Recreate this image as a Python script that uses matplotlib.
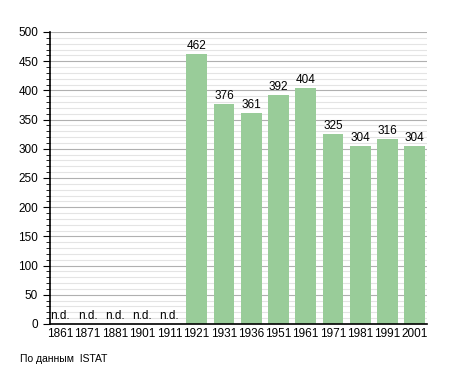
import numpy as np
import matplotlib.pyplot as plt
from matplotlib.ticker import MultipleLocator

plt.rcParams['font.family'] = ['Liberation Sans', 'DejaVu Sans']

years = ["1861", "1871", "1881", "1901", "1911", "1921", "1931", "1936",
         "1951", "1961", "1971", "1981", "1991", "2001"]
pop = [None, None, None, None, None, 462, 376, 361, 392, 404, 325, 304, 316, 304]

fig = plt.figure(figsize=(4.55, 3.73), dpi=100)
ax = fig.add_axes([50/455, 49/373, 377/455, 292/373])

x = np.arange(len(years))
vals = [v if v is not None else 0 for v in pop]
ax.bar(x, vals, width=0.76, color="#99cc99", zorder=2)

for xi, v in zip(x, pop):
    if v is None:
        ax.text(xi, 4, "n.d.", ha="center", va="bottom", fontsize=8.5, zorder=3)
    else:
        ax.text(xi, v + 4, str(v), ha="center", va="bottom", fontsize=8.5, zorder=3)

ax.set_xlim(-0.38, len(years) - 0.55)
ax.set_ylim(0, 500)
ax.set_xticks(x)
ax.set_xticklabels(years, fontsize=8.5)
ax.yaxis.set_major_locator(MultipleLocator(50))
ax.yaxis.set_minor_locator(MultipleLocator(10))
ax.tick_params(axis="y", which="major", length=5, labelsize=8.5, direction="out")
ax.tick_params(axis="y", which="minor", length=3, direction="out")
ax.tick_params(axis="x", length=0, labelsize=8.5, pad=3)

ax.grid(axis="y", which="major", color="#b0b0b0", linewidth=0.8, zorder=0)
ax.grid(axis="y", which="minor", color="#e4e4e4", linewidth=0.8, zorder=0)
ax.set_axisbelow(True)

for s in ["top", "right"]:
    ax.spines[s].set_visible(False)
ax.spines["left"].set_linewidth(1.2)
ax.spines["bottom"].set_linewidth(1.2)

fig.text(20/455, 1 - 362/373, "По данным  ISTAT", fontsize=7.5)

fig.savefig("out.png", dpi=100)
